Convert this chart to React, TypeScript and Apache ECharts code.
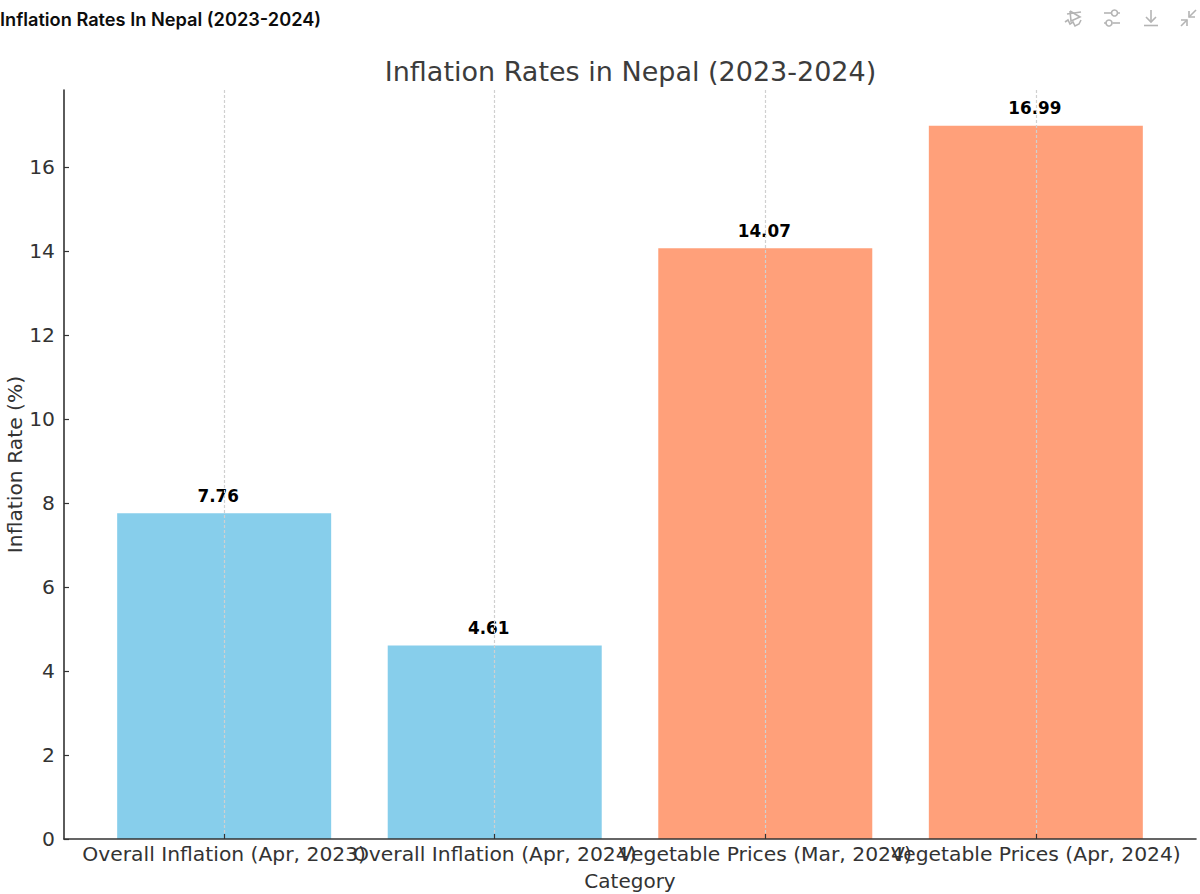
import React, { useEffect, useRef } from "react";
import * as echarts from "echarts";

const pageTitle = "Inflation Rates In Nepal (2023-2024)";
const chartTitle = "Inflation Rates in Nepal (2023-2024)";
const categories = [
  "Overall Inflation (Apr, 2023)",
  "Overall Inflation (Apr, 2024)",
  "Vegetable Prices (Mar, 2024)",
  "Vegetable Prices (Apr, 2024)",
];
const values = [7.76, 4.61, 14.07, 16.99];
const barColors = ["#87CEEB", "#87CEEB", "#FFA07A", "#FFA07A"];
const categoryPositions = [0, 1, 2, 3];
const xMin = -0.592;
const xMax = 3.592;

const FONT = '"DejaVu Sans", sans-serif';
const ICON = { stroke: "#b4b4b4", lineWidth: 1.6, fill: "none" };
const line = (x1: number, y1: number, x2: number, y2: number) => ({
  type: "line",
  shape: { x1, y1, x2, y2 },
  style: ICON,
  silent: true,
});
const poly = (points: number[][]) => ({
  type: "polyline",
  shape: { points },
  style: ICON,
  silent: true,
});
const circle = (cx: number, cy: number, r: number) => ({
  type: "circle",
  shape: { cx, cy, r },
  style: ICON,
  silent: true,
});

export default function App() {
  const ref = useRef<HTMLDivElement>(null);
  useEffect(() => {
    if (!ref.current) return;
    const chart = echarts.init(ref.current, undefined, { renderer: "svg" });
    chart.setOption({
      animation: false,
      backgroundColor: "#ffffff",
      title: {
        text: chartTitle,
        left: 625.5,
        top: 53,
        textAlign: "center",
        textStyle: { fontFamily: FONT, fontSize: 27, fontWeight: "normal", color: "#3c3c3c" },
      },
      grid: { left: 64, right: 4, top: 90, bottom: 55, outerBoundsMode: "none" },
      xAxis: {
        type: "value",
        min: xMin,
        max: xMax,
        z: 5,
        name: "Category",
        nameLocation: "middle",
        nameGap: 32,
        nameMoveOverlap: false,
        nameTextStyle: { fontFamily: FONT, fontSize: 20, color: "#333333" },
        axisLine: { show: true, onZero: false, lineStyle: { color: "#333333", width: 1.6 } },
        axisTick: { show: true, inside: true, length: 5, customValues: categoryPositions, lineStyle: { color: "#333333", width: 1.2 } },
        axisLabel: {
          show: true,
          customValues: [xMin, ...categoryPositions, xMax],
          formatter: (v: number) => categories[Math.round(v)] ?? "",
          hideOverlap: false,
          margin: 5,
          fontFamily: FONT,
          fontSize: 20.3,
          color: "#333333",
        },
        splitLine: { show: true, lineStyle: { color: "#d0d0d0", type: [3, 2], width: 1.2 } },
      },
      yAxis: {
        type: "value",
        min: 0,
        max: 17.84,
        interval: 2,
        name: "Inflation Rate (%)",
        nameLocation: "middle",
        nameGap: 39,
        nameMoveOverlap: false,
        nameTextStyle: { fontFamily: FONT, fontSize: 20.3, color: "#333333" },
        axisLine: { show: true, onZero: false, lineStyle: { color: "#333333", width: 1.6 } },
        axisTick: { show: true, inside: true, length: 5, lineStyle: { color: "#333333", width: 1.2 } },
        axisLabel: {
          margin: 9,
          fontFamily: FONT,
          fontSize: 20.3,
          color: "#333333",
          showMaxLabel: false,
        },
        splitLine: { show: false },
      },
      series: [
        {
          type: "bar",
          barWidth: 214,
          data: values.map((v, i) => ({
            value: [categoryPositions[i], v],
            itemStyle: { color: barColors[i] },
            label: { offset: [v < 10 ? -6 : -1, 0] },
          })),
          label: {
            show: true,
            position: "top",
            distance: 9,
            formatter: (p: any) => p.value[1].toFixed(2),
            fontFamily: FONT,
            fontSize: 16.8,
            fontWeight: "bold",
            color: "#000000",
          },
        },
      ],
      graphic: [
        {
          type: "text",
          x: 0,
          y: 10,
          silent: true,
          style: { text: pageTitle, fontFamily: "Inter, sans-serif", fontSize: 18.2, fontWeight: 600, fill: "#0d0d0d" },
        },
        poly([[1070, 11], [1080, 17], [1071, 21], [1070, 11]]),
        poly([[1065, 22], [1068, 20], [1070, 24], [1073, 22], [1075, 26], [1079, 24], [1081, 20]]),
        line(1067, 14, 1081, 12),
        line(1104, 13, 1111, 13),
        circle(1114.5, 13, 3),
        line(1118, 13, 1120, 13),
        line(1104, 23, 1106, 23),
        circle(1109, 23, 3),
        line(1112.5, 23, 1120, 23),
        line(1151, 10, 1151, 22),
        poly([[1146, 17], [1151, 22], [1156, 17]]),
        line(1144, 25.5, 1158, 25.5),
        line(1196, 10, 1189, 17),
        poly([[1189, 11], [1189, 17], [1195, 17]]),
        line(1181, 26, 1187, 20),
        poly([[1181, 20], [1187, 20], [1187, 26]]),
      ],
    });
    return () => chart.dispose();
  }, []);
  return <div ref={ref} style={{ position: "fixed", left: 0, top: 0, width: 1200, height: 894, background: "#fff" }} />;
}
